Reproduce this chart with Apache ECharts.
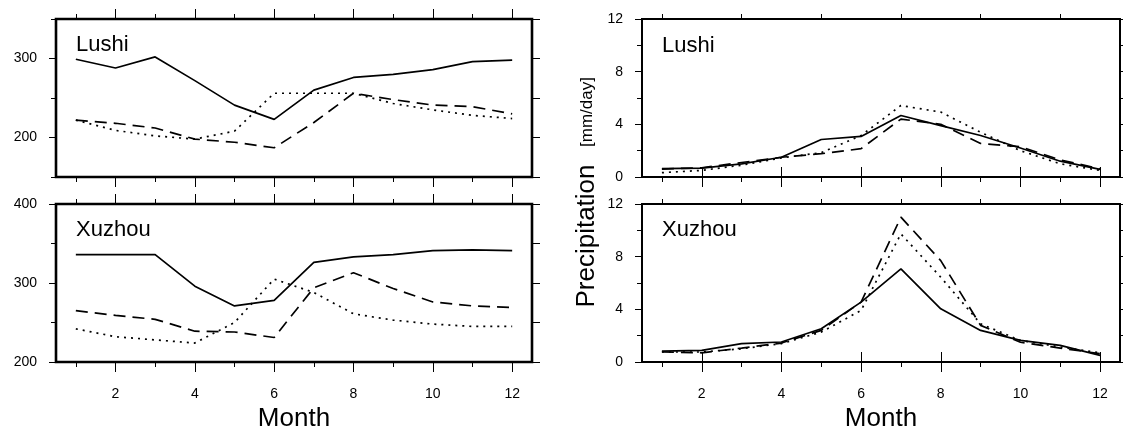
<!DOCTYPE html>
<html>
<head>
<meta charset="utf-8">
<script src="https://cdn.jsdelivr.net/npm/echarts@6/dist/echarts.min.js"></script>
<style>
  html, body { margin: 0; padding: 0; background: #fff; }
  #chart { width: 1123px; height: 433px; }
</style>
</head>
<body>
<div id="chart"></div>
<script>
// Meses y marcas
const months = [1, 2, 3, 4, 5, 6, 7, 8, 9, 10, 11, 12];
const evenMonths = [2, 4, 6, 8, 10, 12];
const oddMonths = [1, 3, 5, 7, 9, 11];

// Lushi, panel izquierdo (150-350)
const lushiLeftSolid = [299, 288, 302, 272, 241, 223, 260, 276, 280, 286, 296, 298];
const lushiLeftDash = [222, 218, 212, 198, 194, 187, 219, 256, 248, 241, 239, 230];
const lushiLeftDot = [222, 209, 202, 198, 208, 256, 256, 256, 243, 235, 228, 224];

// Xuzhou, panel izquierdo (200-400)
const xuzhouLeftSolid = [336, 336, 336, 296, 271, 278, 326, 333, 336, 341, 342, 341];
const xuzhouLeftDash = [265, 259, 254, 239, 238, 231, 294, 313, 293, 276, 271, 269];
const xuzhouLeftDot = [242, 232, 228, 224, 250, 305, 288, 261, 253, 248, 245, 245];

// Precipitación [mm/day]
const lushiPrSolid = [0.63, 0.68, 1.0, 1.5, 2.85, 3.08, 4.67, 3.9, 3.15, 2.2, 1.2, 0.58];
const lushiPrDash = [0.6, 0.7, 1.1, 1.5, 1.77, 2.15, 4.4, 4.0, 2.55, 2.3, 1.3, 0.63];
const lushiPrDot = [0.33, 0.5, 0.9, 1.45, 1.85, 3.15, 5.43, 4.93, 3.4, 2.0, 1.0, 0.5];

const xuzhouPrSolid = [0.83, 0.88, 1.39, 1.52, 2.53, 4.55, 7.07, 4.04, 2.4, 1.64, 1.26, 0.5];
const xuzhouPrDash = [0.76, 0.7, 1.06, 1.44, 2.4, 4.55, 11.0, 7.7, 2.78, 1.5, 1.06, 0.63];
const xuzhouPrDot = [0.76, 0.76, 1.0, 1.4, 2.27, 3.92, 9.73, 6.44, 2.9, 1.64, 1.14, 0.7];

// Marcas del eje y
const leftTopLabels = [200, 300];
const leftTopMinor = [150, 250, 350];
const leftBotLabels = [200, 300, 400];
const leftBotMinor = [250, 350];
const prLabels = [0, 4, 8, 12];
const prMinor = [2, 6, 10];

const FONT = "Liberation Sans";

const panels = [
  { left: 56, top: 19, width: 476, min: 150, max: 350, labels: leftTopLabels, minor: leftTopMinor,
    series: [lushiLeftSolid, lushiLeftDash, lushiLeftDot], xLabels: false, border: 2.6, rightTick: 8 },
  { left: 56, top: 204, width: 476, min: 200, max: 400, labels: leftBotLabels, minor: leftBotMinor,
    series: [xuzhouLeftSolid, xuzhouLeftDash, xuzhouLeftDot], xLabels: true, border: 2.6, rightTick: 8 },
  { left: 642, top: 19, width: 478, min: 0, max: 12, labels: prLabels, minor: prMinor,
    series: [lushiPrSolid, lushiPrDash, lushiPrDot], xLabels: false, border: 2, rightTick: 5 },
  { left: 642, top: 204, width: 478, min: 0, max: 12, labels: prLabels, minor: prMinor,
    series: [xuzhouPrSolid, xuzhouPrDash, xuzhouPrDot], xLabels: true, border: 2, rightTick: 5 },
];

const tickStyle = { color: "#000", width: 1 };
const labelStyle = { color: "#000", fontSize: 14, fontFamily: FONT };

function xAx(g, pos, vals, len, labels) {
  return {
    type: "value", gridIndex: g, position: pos, min: 0.5, max: 12.5,
    axisLine: { show: false }, splitLine: { show: false },
    axisTick: { show: true, inside: false, length: len, customValues: vals, lineStyle: tickStyle },
    axisLabel: labels
      ? Object.assign({ show: true, customValues: vals, margin: 25 }, labelStyle)
      : { show: false },
  };
}

function yAx(g, pos, p, vals, len, labels) {
  return {
    type: "value", gridIndex: g, position: pos, min: p.min, max: p.max,
    axisLine: { show: false }, splitLine: { show: false },
    axisTick: { show: true, inside: false, length: len, customValues: vals, lineStyle: tickStyle },
    axisLabel: labels
      ? Object.assign({ show: true, customValues: vals, margin: 19 }, labelStyle)
      : { show: false },
  };
}

const grid = [];
const xAxis = [];
const yAxis = [];
const series = [];
const dashes = ["solid", [12, 7], [2, 5]];

panels.forEach((p, g) => {
  grid.push({
    left: p.left, top: p.top, width: p.width, height: 158,
    show: true, borderColor: "#000", borderWidth: p.border, backgroundColor: "transparent",
  });
  xAxis.push(xAx(g, "bottom", evenMonths, 10, p.xLabels));
  xAxis.push(xAx(g, "bottom", oddMonths, 5, false));
  xAxis.push(xAx(g, "top", evenMonths, 10, false));
  xAxis.push(xAx(g, "top", oddMonths, 5, false));
  yAxis.push(yAx(g, "left", p, p.labels, 7, true));
  yAxis.push(yAx(g, "left", p, p.minor, 5, false));
  yAxis.push(yAx(g, "right", p, p.labels.concat(p.minor), p.rightTick, false));
  p.series.forEach((vals, k) => {
    series.push({
      type: "line",
      xAxisIndex: 4 * g,
      yAxisIndex: 3 * g,
      data: months.map((m, i) => [m, vals[i]]),
      symbol: "none",
      lineStyle: { color: "#000", width: 1.7, type: dashes[k] },
      z: 3 - k,
    });
  });
});

function txt(x, y, text, size, rot) {
  return {
    type: "text", x: x, y: y, rotation: rot || 0,
    style: { text: text, fontSize: size, fontFamily: FONT, fill: "#000",
      textAlign: rot ? "center" : "left", textVerticalAlign: "middle" },
  };
}

const graphic = [
  txt(76, 45, "Lushi", 22),
  txt(76, 230, "Xuzhou", 22),
  txt(662, 46, "Lushi", 22),
  txt(662, 230, "Xuzhou", 22),
  Object.assign(txt(294, 419, "Month", 26), {}),
  Object.assign(txt(881, 419, "Month", 26), {}),
  txt(587, 236, "Precipitation", 26, Math.PI / 2),
  txt(587, 112, "[mm/day]", 17, Math.PI / 2),
];
graphic[4].style.textAlign = "center";
graphic[5].style.textAlign = "center";

const chart = echarts.init(document.getElementById("chart"));
chart.setOption({
  animation: false,
  backgroundColor: "#fff",
  grid: grid,
  xAxis: xAxis,
  yAxis: yAxis,
  series: series,
  graphic: graphic,
});
</script>
</body>
</html>
